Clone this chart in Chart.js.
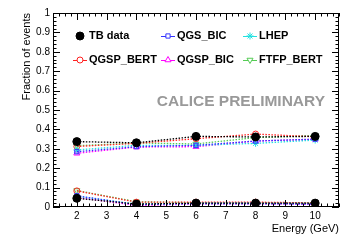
<!DOCTYPE html>
<html lang="en">
<head>
    <meta charset="UTF-8">
    <title>Fraction of events vs Energy</title>
    <style>
        body { margin: 0; padding: 0; background: #fff; }
        #wrap { width: 357px; height: 242px; }
    </style>
</head>
<body>
    <div id="wrap"><canvas id="chart" width="357" height="242"></canvas></div>

    <script src="https://cdn.jsdelivr.net/npm/chart.js"></script>
    <script>
        const energies = [2, 4, 6, 8, 10];
        const seriesNames = ['TB data', 'QGS_BIC', 'LHEP', 'QGSP_BERT', 'QGSP_BIC', 'FTFP_BERT'];

        // upper branch (around 0.3)
        const tbHigh       = [0.337, 0.331, 0.364, 0.361, 0.364];
        const qgsBicHigh   = [0.285, 0.311, 0.318, 0.340, 0.350];
        const lhepHigh     = [0.294, 0.318, 0.318, 0.328, 0.345];
        const qgspBertHigh = [0.312, 0.328, 0.352, 0.376, 0.362];
        const qgspBicHigh  = [0.277, 0.309, 0.311, 0.340, 0.349];
        const ftfpBertHigh = [0.316, 0.330, 0.325, 0.358, 0.368];

        // lower branch (near 0)
        const tbLow       = [0.045, 0.015, 0.020, 0.020, 0.020];
        const qgsBicLow   = [0.058, 0.012, 0.018, 0.018, 0.016];
        const lhepLow     = [0.055, 0.015, 0.018, 0.018, 0.018];
        const qgspBertLow = [0.083, 0.025, 0.025, 0.025, 0.021];
        const qgspBicLow  = [0.050, 0.008, 0.015, 0.015, 0.014];
        const ftfpBertLow = [0.085, 0.027, 0.022, 0.020, 0.020];

        const highSeries = [tbHigh, qgsBicHigh, lhepHigh, qgspBertHigh, qgspBicHigh, ftfpBertHigh];
        const lowSeries = [tbLow, qgsBicLow, lhepLow, qgspBertLow, qgspBicLow, ftfpBertLow];

        const styles = [
            { color: '#000000', pointStyle: 'circle', rotation: 0, radius: 4, fill: true },
            { color: '#3333ff', pointStyle: 'rect', rotation: 0, radius: 3, fill: false },
            { color: '#22e0e0', pointStyle: 'star', rotation: 0, radius: 3.5, fill: false },
            { color: '#ff2020', pointStyle: 'circle', rotation: 0, radius: 3, fill: false },
            { color: '#ff00ff', pointStyle: 'triangle', rotation: 0, radius: 3.5, fill: false },
            { color: '#55cc55', pointStyle: 'triangle', rotation: 180, radius: 3.5, fill: false }
        ];

        const FONT = '"Liberation Sans", Arial, Helvetica, sans-serif';

        function makeDataset(i, values) {
            const s = styles[i];
            return {
                label: seriesNames[i],
                data: energies.map((e, k) => ({ x: e, y: values[k] })),
                borderColor: s.color,
                backgroundColor: s.fill ? s.color : 'rgba(0,0,0,0)',
                borderWidth: 1.3,
                borderDash: [1.5, 1.5],
                pointStyle: s.pointStyle,
                pointRotation: s.rotation,
                pointRadius: s.radius,
                pointBorderColor: s.color,
                pointBackgroundColor: s.fill ? s.color : 'rgba(0,0,0,0)',
                pointBorderWidth: 1,
                tension: 0
            };
        }

        const datasets = [];
        for (let i = 0; i < seriesNames.length; i++) {
            datasets.push(makeDataset(i, highSeries[i]));
            datasets.push(makeDataset(i, lowSeries[i]));
        }

        // ROOT style frame, inward ticks, legend and labels
        const rootStyle = {
            id: 'rootStyle',
            afterDraw(chart) {
                const ctx = chart.ctx;
                const a = chart.chartArea;
                const xs = chart.scales.x;
                const ys = chart.scales.y;
                ctx.save();
                ctx.strokeStyle = '#000';
                ctx.lineWidth = 1;
                ctx.strokeRect(a.left + 0.5, a.top + 0.5, a.right - a.left - 1, a.bottom - a.top - 1);

                ctx.beginPath();
                // x ticks, bottom and top
                for (let v = 1.2; v <= 10.81; v += 0.2) {
                    const px = Math.round(xs.getPixelForValue(v)) + 0.5;
                    const major = Math.abs(v - Math.round(v)) < 1e-6;
                    const len = major ? 7 : 3.5;
                    ctx.moveTo(px, a.bottom); ctx.lineTo(px, a.bottom - len);
                    ctx.moveTo(px, a.top); ctx.lineTo(px, a.top + len);
                }
                // y ticks, left and right
                for (let k = 0; k <= 50; k++) {
                    const v = k * 0.02;
                    const py = Math.round(ys.getPixelForValue(v)) + 0.5;
                    const len = k % 5 === 0 ? 7 : 3.5;
                    ctx.moveTo(a.left, py); ctx.lineTo(a.left + len, py);
                    ctx.moveTo(a.right, py); ctx.lineTo(a.right - len, py);
                }
                ctx.stroke();

                // axis titles
                ctx.fillStyle = '#000';
                ctx.font = '11px ' + FONT;
                ctx.textAlign = 'right';
                ctx.textBaseline = 'alphabetic';
                ctx.fillText('Energy (GeV)', a.right, 232);
                ctx.save();
                ctx.translate(30, a.top);
                ctx.rotate(-Math.PI / 2);
                ctx.textAlign = 'right';
                ctx.fillText('Fraction of events', 0, 0);
                ctx.restore();

                // preliminary label
                ctx.fillStyle = '#999999';
                ctx.font = 'bold 15.5px ' + FONT;
                ctx.textAlign = 'right';
                ctx.textBaseline = 'middle';
                ctx.fillText('CALICE PRELIMINARY', 325, 102);

                // legend
                const cols = [80, 168, 250];
                const rows = [36, 60];
                ctx.font = 'bold 11px ' + FONT;
                ctx.textAlign = 'left';
                ctx.textBaseline = 'middle';
                for (let i = 0; i < seriesNames.length; i++) {
                    const s = styles[i];
                    const cx = cols[i % 3];
                    const cy = rows[Math.floor(i / 3)];
                    if (i > 0) {
                        ctx.strokeStyle = s.color;
                        ctx.lineWidth = 1;
                        ctx.beginPath();
                        ctx.moveTo(cx - 7, cy + 0.5); ctx.lineTo(cx + 7, cy + 0.5);
                        ctx.stroke();
                    }
                    ctx.strokeStyle = s.color;
                    ctx.fillStyle = s.fill ? s.color : '#fff';
                    Chart.helpers.drawPoint(ctx, {
                        pointStyle: s.pointStyle,
                        rotation: s.rotation,
                        radius: s.radius,
                        borderWidth: 1
                    }, cx, cy);
                    ctx.fillStyle = '#000';
                    ctx.fillText(seriesNames[i], cx + 9, cy);
                }
                ctx.restore();
            }
        };

        new Chart(document.getElementById('chart').getContext('2d'), {
            type: 'line',
            data: { datasets: datasets },
            options: {
                responsive: false,
                animation: false,
                layout: { padding: { top: 13, right: 18, left: 0, bottom: 0 } },
                plugins: { legend: { display: false }, tooltip: { enabled: false } },
                scales: {
                    x: {
                        type: 'linear',
                        min: 1.2,
                        max: 10.8,
                        afterFit(scale) { scale.height = 35; },
                        afterBuildTicks(scale) {
                            scale.ticks = [2, 3, 4, 5, 6, 7, 8, 9, 10].map(v => ({ value: v }));
                        },
                        grid: { display: false, drawTicks: false },
                        border: { display: false },
                        ticks: {
                            padding: 3,
                            color: '#000',
                            font: { family: FONT, size: 10 },
                            maxRotation: 0,
                            callback: v => String(v)
                        }
                    },
                    y: {
                        type: 'linear',
                        min: 0,
                        max: 1,
                        afterFit(scale) { scale.width = 53; },
                        grid: { display: false, drawTicks: false },
                        border: { display: false },
                        ticks: {
                            stepSize: 0.1,
                            padding: 3,
                            color: '#000',
                            font: { family: FONT, size: 10 },
                            callback: v => String(Math.round(v * 10) / 10)
                        }
                    }
                }
            },
            plugins: [rootStyle]
        });
    </script>
</body>
</html>
